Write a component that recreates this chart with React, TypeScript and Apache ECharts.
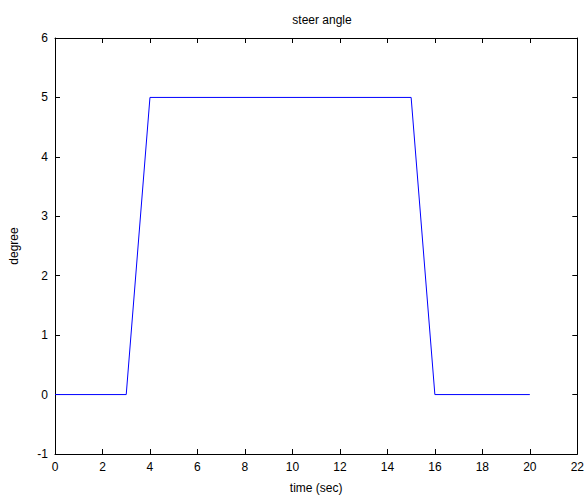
import React, { useEffect, useRef } from "react";
import * as echarts from "echarts";

const timeValues = [0, 3, 4, 15, 16, 20];
const angleValues = [0, 0, 5, 5, 0, 0];
const titleText = "steer angle";
const xLabel = "time (sec)";
const yLabel = "degree";

const FONT = "Liberation Sans, Arial, sans-serif";

const mkLine = () => ({ show: true, onZero: false, lineStyle: { color: "#000", width: 1 } });
const mkTick = () => ({ show: true, inside: true, length: 5, lineStyle: { color: "#000", width: 1 } });

export default function App() {
  const ref = useRef<HTMLDivElement>(null);
  useEffect(() => {
    if (!ref.current) return;
    const chart = echarts.init(ref.current, null, { renderer: "svg" });
    chart.setOption({
      animation: false,
      backgroundColor: "#fff",
      title: {
        text: titleText,
        left: 317,
        textAlign: "center",
        top: 9,
        textStyle: { fontFamily: FONT, fontSize: 12, fontWeight: "normal", color: "#000" },
      },
      grid: { left: 55, top: 38, right: 8, bottom: 45, containLabel: false },
      xAxis: [
        {
          type: "value",
          min: 0,
          max: 22,
          interval: 2,
          position: "bottom",
          axisLine: mkLine(),
          axisTick: mkTick(),
          splitLine: { show: false },
          axisLabel: { fontFamily: FONT, fontSize: 12, color: "#000", margin: 7 },
          name: xLabel,
          nameLocation: "middle",
          nameGap: 28,
          nameTextStyle: { fontFamily: FONT, fontSize: 12, color: "#000" },
        },
        {
          type: "value",
          min: 0,
          max: 22,
          interval: 2,
          position: "top",
          axisLine: mkLine(),
          axisTick: mkTick(),
          splitLine: { show: false },
          axisLabel: { show: false },
        },
      ],
      yAxis: [
        {
          type: "value",
          min: -1,
          max: 6,
          interval: 1,
          position: "left",
          axisLine: mkLine(),
          axisTick: mkTick(),
          splitLine: { show: false },
          axisLabel: { fontFamily: FONT, fontSize: 12, color: "#000", margin: 7 },
          name: yLabel,
          nameLocation: "middle",
          nameGap: 35,
          nameTextStyle: { fontFamily: FONT, fontSize: 12, color: "#000" },
        },
        {
          type: "value",
          min: -1,
          max: 6,
          interval: 1,
          position: "right",
          axisLine: mkLine(),
          axisTick: mkTick(),
          splitLine: { show: false },
          axisLabel: { show: false },
        },
      ],
      series: [
        {
          type: "line",
          data: timeValues.map((t, i) => [t, angleValues[i]]),
          showSymbol: false,
          lineStyle: { color: "#0000ff", width: 1 },
          itemStyle: { color: "#0000ff" },
        },
      ],
    });
    return () => chart.dispose();
  }, []);
  return (
    <div
      ref={ref}
      style={{ position: "fixed", left: 0, top: 0, width: 587, height: 499, background: "#fff" }}
    />
  );
}
